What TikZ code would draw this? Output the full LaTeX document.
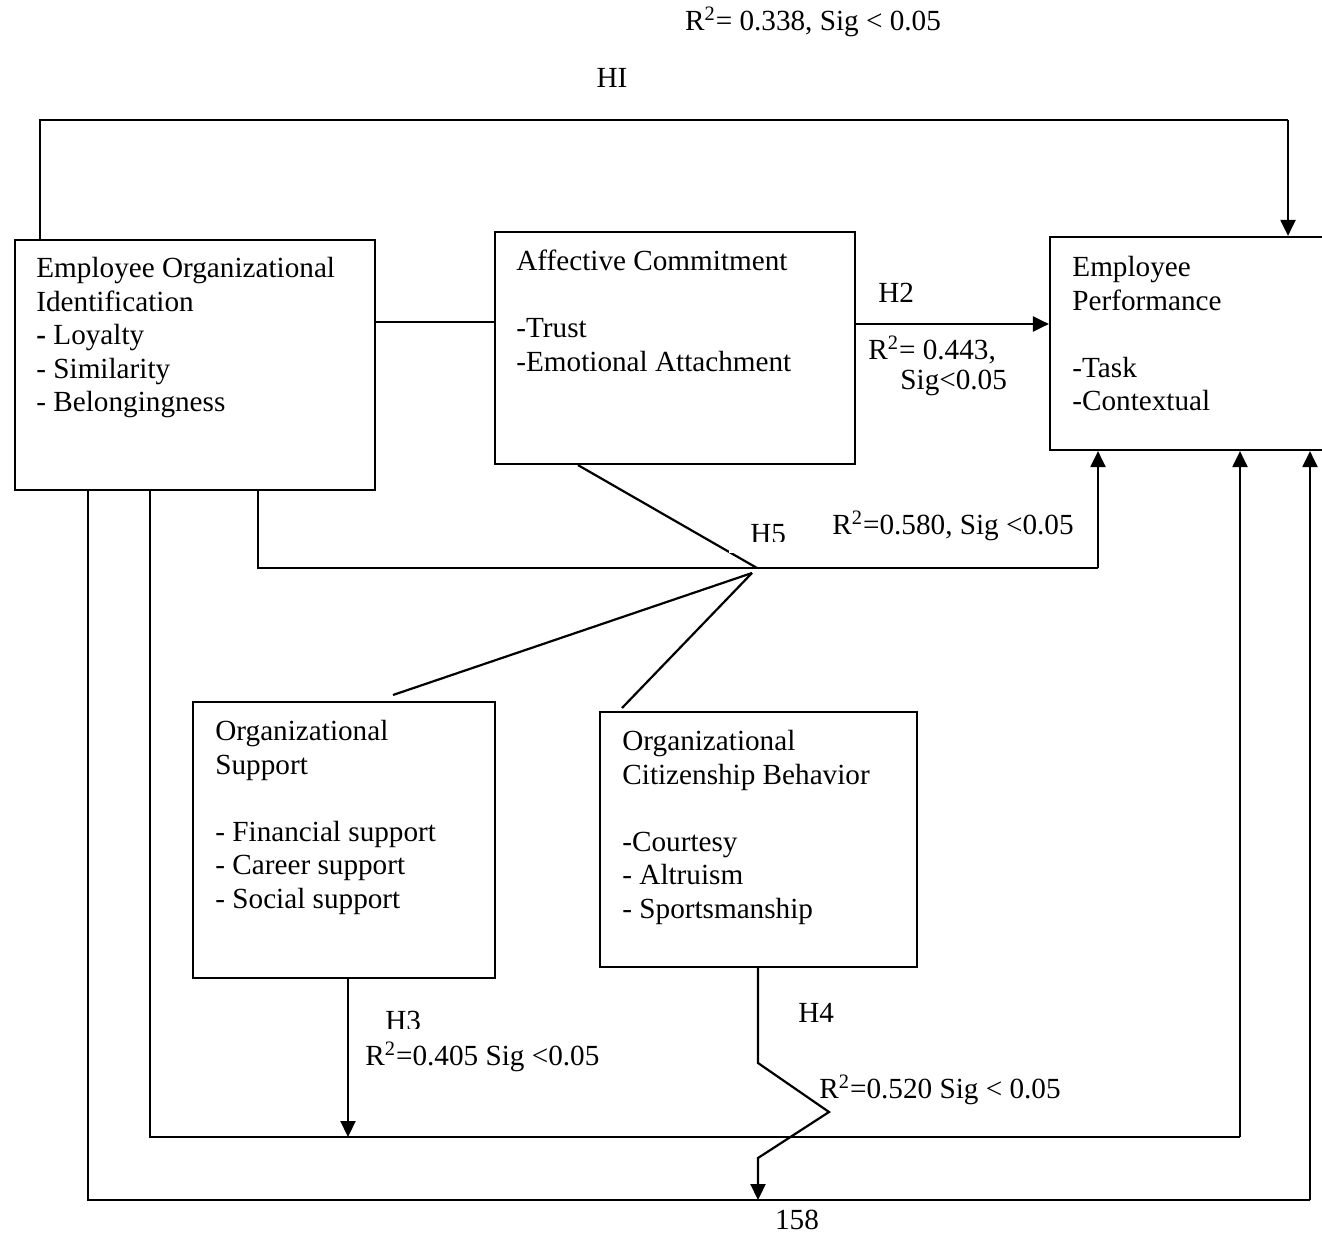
\documentclass[tikz,border=0pt]{standalone}
\usepackage{fontspec}
\setmainfont{Liberation Serif}
\usetikzlibrary{arrows.meta,fit}
\begin{document}
\begin{tikzpicture}[x=0.5pt,y=-0.5pt,
  ln/.style={line width=1.1pt,line join=miter},
  arr/.style={ln,-{Triangle[length=8pt,width=7.5pt]}},
  boxst/.style={draw,line width=1.1pt,inner sep=0pt},
  boxtxt/.style={anchor=north west,align=left,inner sep=0pt,font=\fontsize{14.6}{16.75}\selectfont},
  lbl/.style={anchor=west,inner sep=0pt,font=\fontsize{14.6}{16.75}\selectfont},
  clbl/.style={anchor=center,inner sep=0pt,font=\fontsize{14.6}{16.75}\selectfont}]
\useasboundingbox (0,0) rectangle (1322,1235);

% boxes
\coordinate (eoiNW) at (15,240);  \coordinate (eoiSE) at (375,490);
\coordinate (acNW) at (495,232);  \coordinate (acSE) at (855,464);
\coordinate (epNW) at (1050,237); \coordinate (epSE) at (1330,450);
\coordinate (osNW) at (193,702);  \coordinate (osSE) at (495,978);
\coordinate (ocbNW) at (600,712); \coordinate (ocbSE) at (917,967);
\node[boxst,fit=(eoiNW)(eoiSE)] (eoi) {};
\node[boxst,fit=(acNW)(acSE)] (ac) {};
\node[boxst,fit=(epNW)(epSE)] (ep) {};
\node[boxst,fit=(osNW)(osSE)] (os) {};
\node[boxst,fit=(ocbNW)(ocbSE)] (ocb) {};

% box texts
\node[boxtxt] (eoiT) at (36,257) {Employee Organizational\\Identification\\\textbf{-} Loyalty\\- Similarity\\- Belongingness};
\node[boxtxt] (acT) at (516,250) {Affective Commitment\\[16.75pt]-Trust\\-Emotional Attachment};
\node[boxtxt] (epT) at (1072,256) {Employee\\Performance\\[16.75pt]-Task\\-Contextual};
\node[boxtxt] (osT) at (215,720) {Organizational\\Support\\[16.75pt]- Financial support\\- Career support\\- Social support};
\node[boxtxt] (ocbT) at (622,730) {Organizational\\Citizenship Behavior\\[16.75pt]-Courtesy\\- Altruism\\- Sportsmanship};

% H1
\coordinate (h1L) at (40,120);
\coordinate (h1R) at (1288,120);
\draw[ln] (eoi.north -| h1L) -- (h1L) -- (h1R);
\draw[arr] (h1R) -- (h1R |- ep.north);
\node[clbl] (r1) at (813,22) {R\textsuperscript{2}= 0.338, Sig < 0.05};
\node[clbl] (h1) at (612,78) {HI};

% EOI - AC link
\coordinate (lk) at (435,322);
\draw[ln] (eoi.east |- lk) -- (ac.west |- lk);

% H2
\coordinate (h2y) at (950,324);
\draw[arr] (ac.east |- h2y) -- (ep.west |- h2y);
\node[lbl] (h2) at (878,293) {H2};
\node[lbl] (r2a) at (868,350) {R\textsuperscript{2}= 0.443,};
\node[lbl] (r2b) at (900,383) {Sig<0.05};

% H5
\coordinate (acb) at (578,464);
\coordinate (j) at (757,568);
\coordinate (j2) at (752,573);
\coordinate (h5L) at (258,568);
\coordinate (h5R) at (1098,568);
\coordinate (osTop) at (393,695);
\coordinate (ocbTop) at (622,708);
\draw[ln] (ac.south -| acb) -- (j);
\draw[ln] (eoi.south -| h5L) -- (h5L) -- (h5R);
\draw[arr] (h5R) -- (h5R |- ep.south);
\draw[ln] (j2) -- (osTop);
\draw[ln] (j2) -- (ocbTop);
\node[lbl] (h5) at (750,534) {H5};
\fill[white] (729,541.5) rectangle (795,553);
\node[lbl] (r5) at (832,526) {R\textsuperscript{2}=0.580, Sig <0.05};

% H3
\coordinate (h3) at (348,1137);
\draw[arr] (os.south -| h3) -- (h3);
\node[lbl] (h3l) at (385,1021) {H3};
\fill[white] (380,1028.5) rectangle (425,1038);
\node[lbl] (r3) at (365,1057) {R\textsuperscript{2}=0.405 Sig <0.05};

% middle bottom line
\coordinate (mbL) at (150,1137);
\coordinate (mbR) at (1240,1137);
\draw[ln] (eoi.south -| mbL) -- (mbL) -- (mbR);
\draw[arr] (mbR) -- (mbR |- ep.south);

% bottom line
\coordinate (bL) at (88,1200);
\coordinate (bR) at (1310,1200);
\draw[ln] (eoi.south -| bL) -- (bL) -- (bR);
\draw[arr] (bR) -- (bR |- ep.south);

% H4
\coordinate (z1) at (758,1063);
\coordinate (z2) at (829,1112);
\coordinate (z3) at (758,1158);
\coordinate (z4) at (758,1200);
\draw[arr] (ocb.south -| z1) -- (z1) -- (z2) -- (z3) -- (z4);
\node[lbl] (h4) at (798,1013) {H4};
\node[lbl] (r4) at (819,1090) {R\textsuperscript{2}=0.520 Sig < 0.05};

\node[clbl] (pg) at (797,1220) {158};
\end{tikzpicture}
\end{document}
